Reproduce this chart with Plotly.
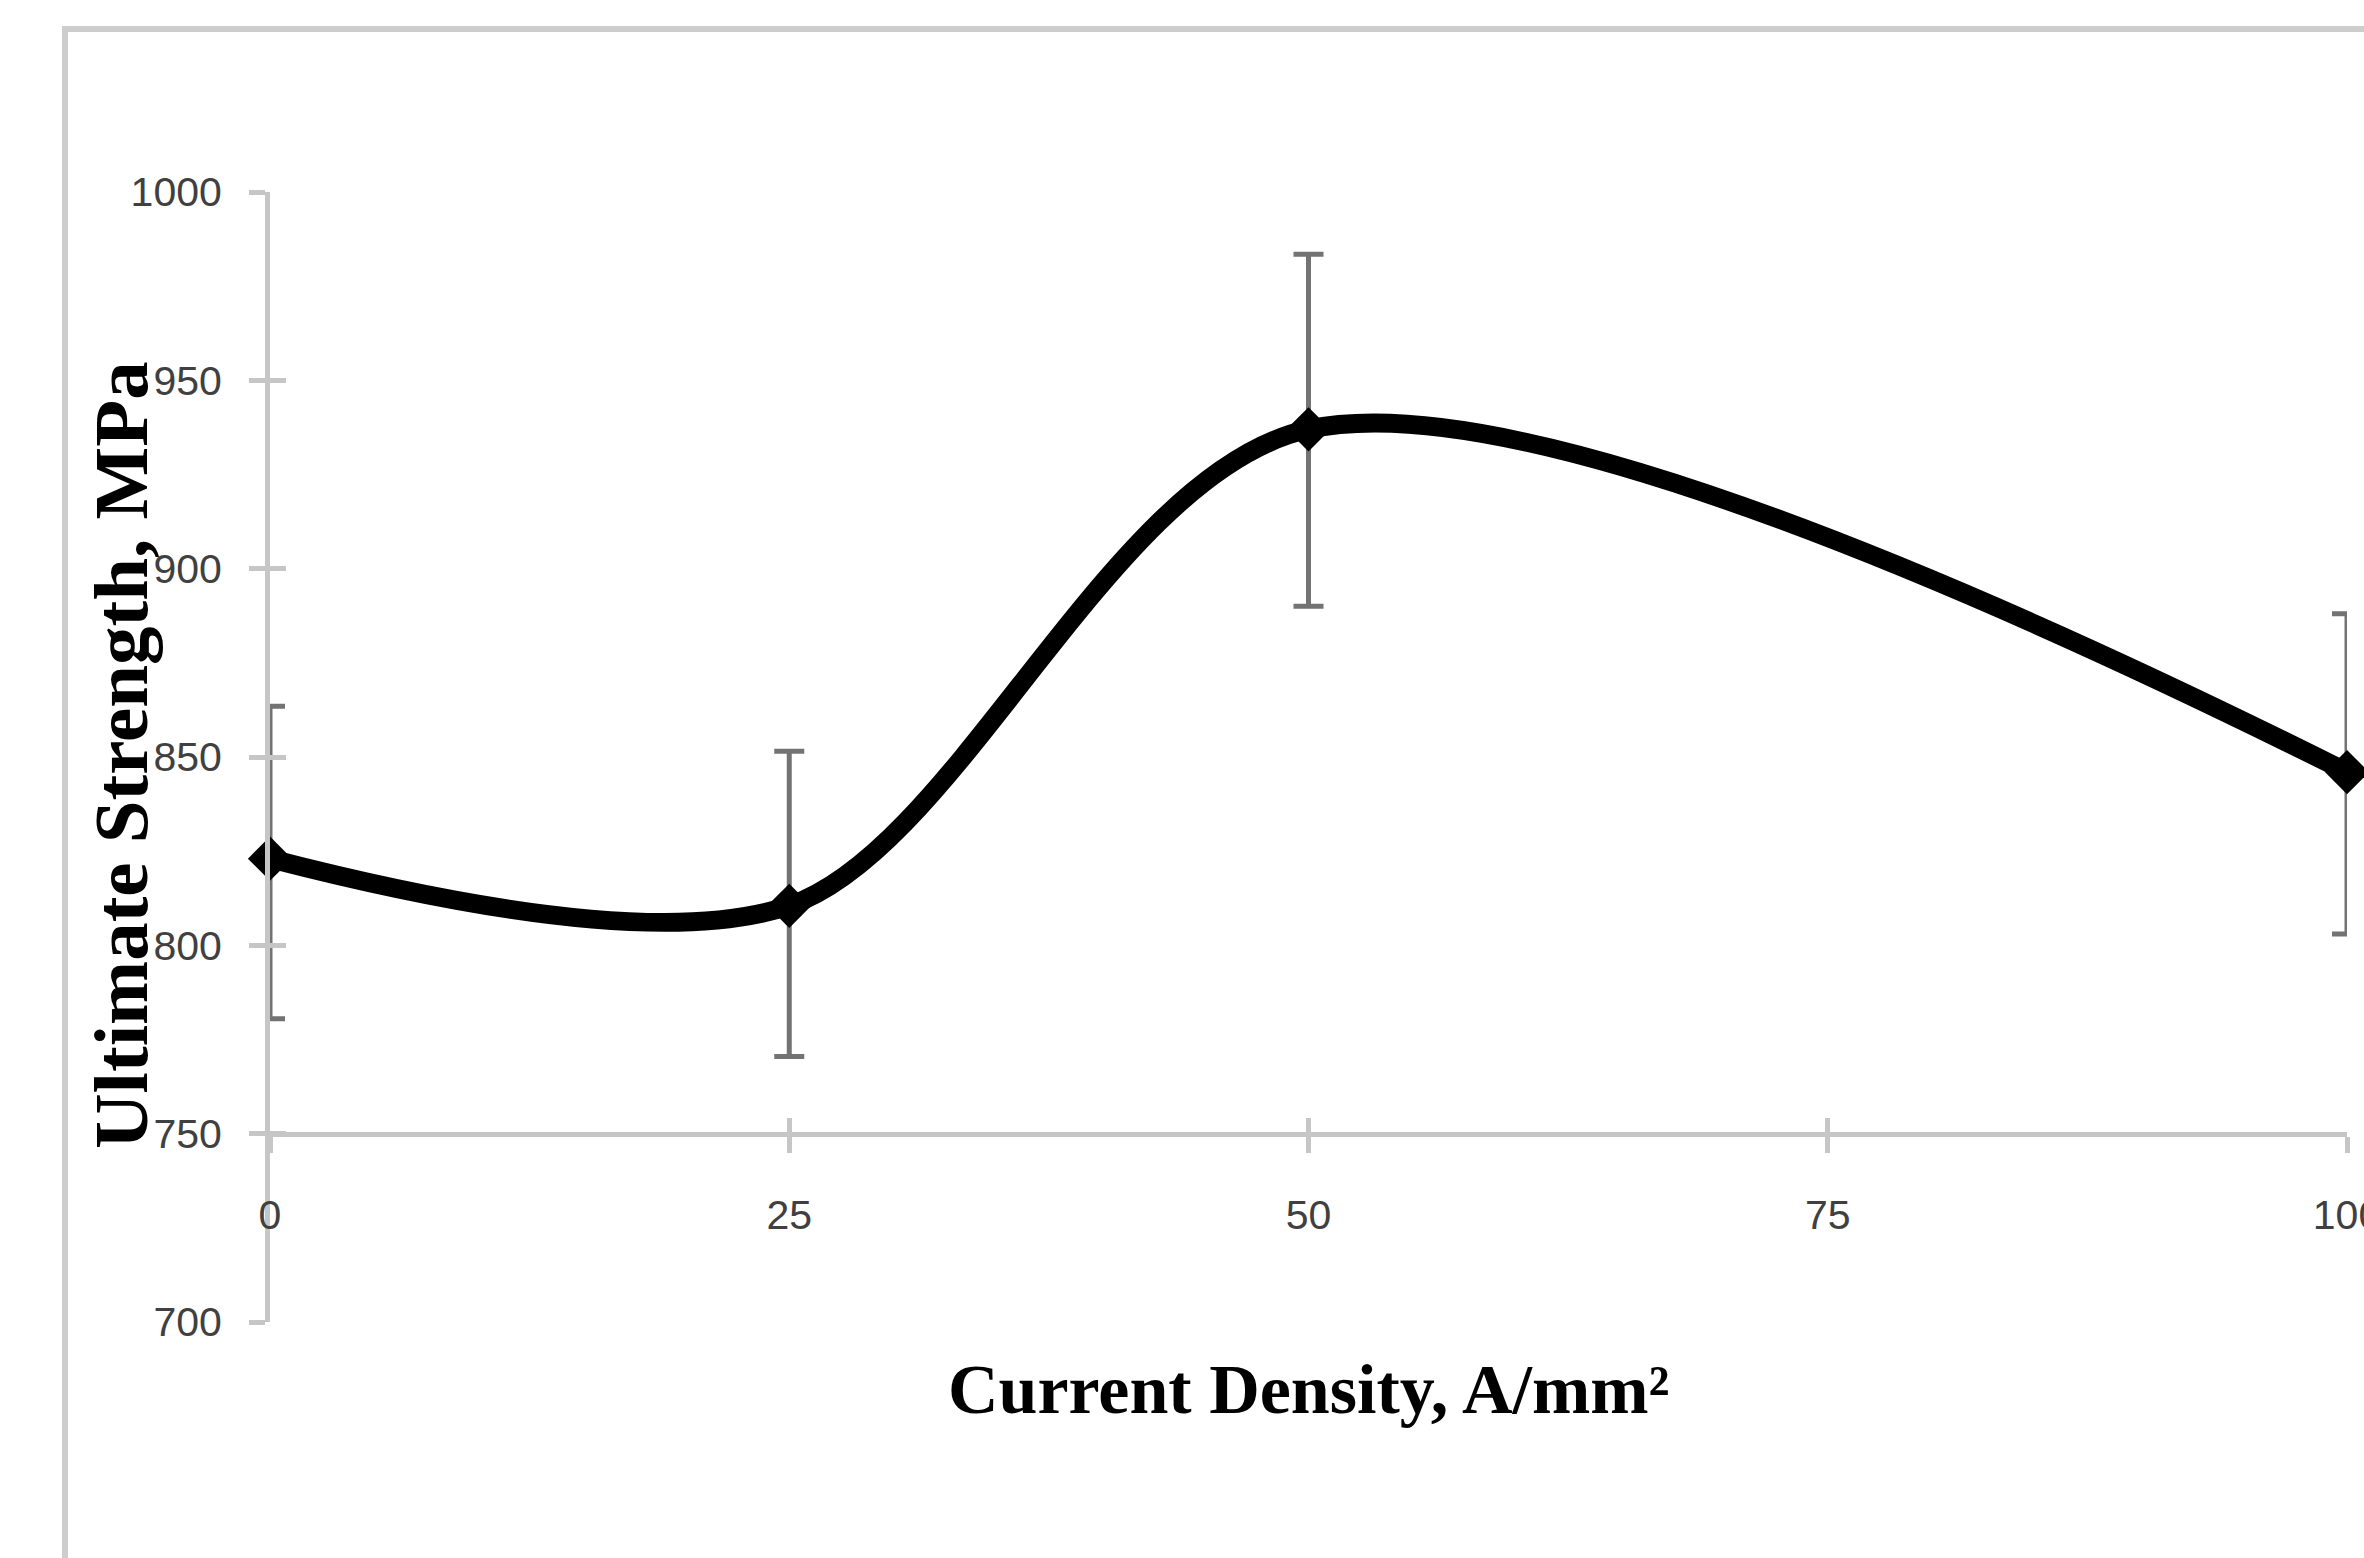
import plotly.graph_objects as go

# ---- data ----
current_density = [0, 25, 50, 100]            # A/mm^2
ultimate_strength = [823, 810.5, 937, 846]    # MPa
err_plus = [40.5, 41, 46.5, 42]
err_minus = [42.5, 40, 47, 43]

x_ticks = [0, 25, 50, 75, 100]
y_ticks = [700, 750, 800, 850, 900, 950, 1000]
x_range = [0, 100]
y_range = [700, 1000]
x_axis_cross = 750

W, H = 2364, 1558
ML, MR, MT, MB = 270, 17, 192, 236

axis_col = "#c6c6c6"
tick_font = dict(family="Liberation Sans, Arial, sans-serif", size=41, color="#404040")
title_family = "Liberation Serif, Times New Roman, serif"

cross_pos = (x_axis_cross - y_range[0]) / (y_range[1] - y_range[0])

fig = go.Figure()

fig.add_trace(go.Scatter(
    x=current_density, y=ultimate_strength,
    mode="lines+markers",
    line=dict(color="#000000", width=19, shape="spline", smoothing=0.9),
    marker=dict(symbol="diamond", size=34, color="#000000"),
    error_y=dict(type="data", symmetric=False, array=err_plus, arrayminus=err_minus,
                 color="#737373", thickness=5, width=15),
    cliponaxis=False, showlegend=False, hoverinfo="x+y",
))

# invisible helper trace so the overlay axes (inner half of crossing ticks) are drawn
fig.add_trace(go.Scatter(
    x=current_density, y=ultimate_strength, xaxis="x2", yaxis="y2",
    mode="markers", marker=dict(opacity=0), showlegend=False, hoverinfo="skip",
))

fig.update_layout(
    width=W, height=H,
    margin=dict(l=ML, r=MR, t=MT, b=MB, pad=0),
    paper_bgcolor="white", plot_bgcolor="white",
    xaxis=dict(range=x_range, tickvals=x_ticks, ticktext=[str(v) for v in x_ticks],
               anchor="free", position=cross_pos,
               showline=True, linecolor=axis_col, linewidth=5,
               ticks="outside", ticklen=16, tickwidth=5, tickcolor=axis_col,
               ticklabelstandoff=27, ticklabeloverflow="allow",
               showgrid=False, zeroline=False, tickfont=tick_font, automargin=False),
    yaxis=dict(range=y_range, tickvals=y_ticks, ticktext=[str(v) for v in y_ticks],
               anchor="x", showline=True, linecolor=axis_col, linewidth=5,
               ticks="outside", ticklen=16, tickwidth=5, tickcolor=axis_col,
               ticklabelstandoff=19, ticklabeloverflow="allow",
               showgrid=False, zeroline=False, tickfont=tick_font, automargin=False),
    xaxis2=dict(range=x_range, tickvals=x_ticks, overlaying="x", anchor="free",
                position=cross_pos, ticks="inside", ticklen=16, tickwidth=5,
                tickcolor=axis_col, showticklabels=False, showline=False,
                showgrid=False, zeroline=False),
    yaxis2=dict(range=y_range, tickvals=y_ticks, overlaying="y", anchor="x2",
                ticks="inside", ticklen=16, tickwidth=5, tickcolor=axis_col,
                showticklabels=False, showline=False, showgrid=False, zeroline=False),
)

plot_w = W - ML - MR
plot_h = H - MT - MB

# outer chart frame (light gray border, running off the right/bottom of the picture)
fig.add_shape(type="rect", xref="paper", yref="paper",
              x0=(65 - ML) / plot_w, x1=1.2,
              y0=-0.5, y1=1 + (MT - 29) / plot_h,
              line=dict(color="#cdcdcd", width=6), fillcolor="rgba(0,0,0,0)", layer="below")

fig.add_annotation(text="<b>Current Density, A/mm²</b>", xref="paper", yref="paper",
                   x=0.5, y=-(1389 - (H - MB)) / plot_h,
                   xanchor="center", yanchor="middle", showarrow=False,
                   font=dict(family=title_family, size=70, color="#000000"))
fig.add_annotation(text="<b>Ultimate Strength, MPa</b>", xref="paper", yref="paper",
                   x=(121 - ML) / plot_w, y=((H - MB) - 755) / plot_h,
                   xanchor="center", yanchor="middle", textangle=-90, showarrow=False,
                   font=dict(family=title_family, size=77, color="#000000"))

fig.write_html("out.html", config={"displayModeBar": False},
               post_script="document.body.style.margin='0px';")
